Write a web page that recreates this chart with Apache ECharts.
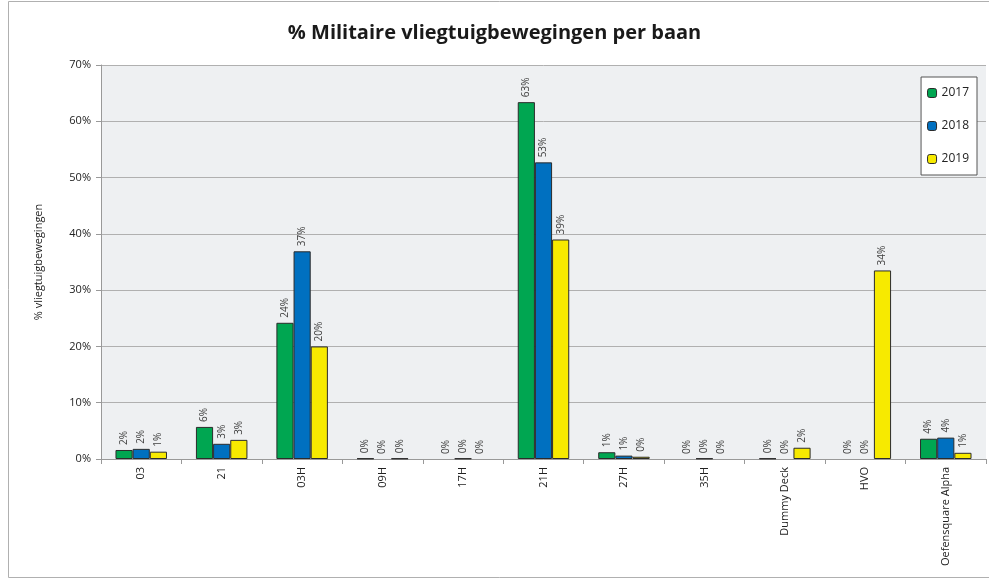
<!DOCTYPE html>
<html>
<head>
<meta charset="utf-8">
<script src="https://cdn.jsdelivr.net/npm/echarts@6/dist/echarts.min.js"></script>
<style>
  html, body { margin: 0; padding: 0; background: #fff; }
  #chart { width: 989px; height: 582px; }
</style>
</head>
<body>
<div id="chart"></div>
<script>
const categories = ['03', '21', '03H', '09H', '17H', '21H', '27H', '35H', 'Dummy Deck', 'HVO', 'Oefensquare Alpha']
const years = ['2017', '2018', '2019']
const values2017 = [1.6, 5.7, 24.2, 0.1, 0, 63.4, 1.2, 0, 0.1, 0, 3.6]
const values2018 = [1.8, 2.7, 36.9, 0, 0.1, 52.7, 0.6, 0.1, 0, 0, 3.8]
const values2019 = [1.3, 3.4, 20.0, 0.1, 0, 39.0, 0.4, 0, 2.0, 33.5, 1.1]
const yTicks = [0, 10, 20, 30, 40, 50, 60, 70]

const colors = ['#00a651', '#0070c0', '#f7ea00']
const font = '"Open Sans", "Noto Sans", sans-serif'

const chart = echarts.init(document.getElementById('chart'))

// zero bars get no outline, so they stay invisible like in Excel
const toItems = arr => arr.map(v => v === 0 ? { value: 0, itemStyle: { borderWidth: 0 } } : v)

const makeSeries = (name, data, i) => ({
  name,
  type: 'bar',
  data: toItems(data),
  barGap: '0%',
  barCategoryGap: '36%',
  itemStyle: { color: colors[i], borderColor: '#2b2b2b', borderWidth: 1 },
  label: {
    show: true,
    position: 'top',
    rotate: 90,
    align: 'left',
    verticalAlign: 'middle',
    distance: 5,
    fontSize: 10,
    fontFamily: font,
    color: '#404040',
    formatter: p => Math.round(p.value) + '%'
  }
})

chart.setOption({
  animation: false,
  backgroundColor: '#fff',
  title: {
    text: '% Militaire vliegtuigbewegingen per baan',
    left: 'center',
    top: 18,
    textStyle: { fontFamily: font, fontSize: 20, fontWeight: 'bold', color: '#1a1a1a' }
  },
  legend: {
    data: years,
    orient: 'vertical',
    right: 12,
    top: 77,
    itemWidth: 9,
    itemHeight: 9,
    itemGap: 21,
    padding: [10, 8, 10, 6],
    borderColor: '#555',
    borderWidth: 1,
    backgroundColor: '#fff',
    textStyle: { fontFamily: font, fontSize: 12, color: '#222' },
    itemStyle: { borderColor: '#2b2b2b', borderWidth: 1 }
  },
  grid: { left: 101, right: 3, top: 65, bottom: 123, backgroundColor: '#eef0f2', show: true, borderWidth: 0 },
  xAxis: {
    type: 'category',
    data: categories,
    axisLine: { lineStyle: { color: '#999' } },
    axisTick: { show: true, length: 5, lineStyle: { color: '#999' } },
    axisLabel: { rotate: 90, fontSize: 11, fontFamily: font, color: '#222', margin: 8 }
  },
  yAxis: {
    type: 'value',
    min: yTicks[0],
    max: yTicks[yTicks.length - 1],
    interval: 10,
    name: '% vliegtuigbewegingen',
    nameLocation: 'middle',
    nameGap: 57,
    nameTextStyle: { fontFamily: font, fontSize: 11, color: '#222' },
    axisLine: { show: true, lineStyle: { color: '#999' } },
    axisTick: { show: true, length: 5, lineStyle: { color: '#999' } },
    axisLabel: { fontSize: 11, fontFamily: font, color: '#222', margin: 10, formatter: v => v + '%' },
    splitLine: { lineStyle: { color: '#b0b0b0', width: 1 } }
  },
  graphic: [{
    type: 'rect',
    shape: { x: 8.5, y: 1.5, width: 990, height: 576 },
    style: { fill: 'none', stroke: '#b0b0b0', lineWidth: 1 },
    silent: true
  }],
  series: [
    makeSeries(years[0], values2017, 0),
    makeSeries(years[1], values2018, 1),
    makeSeries(years[2], values2019, 2)
  ]
})
</script>
</body>
</html>
